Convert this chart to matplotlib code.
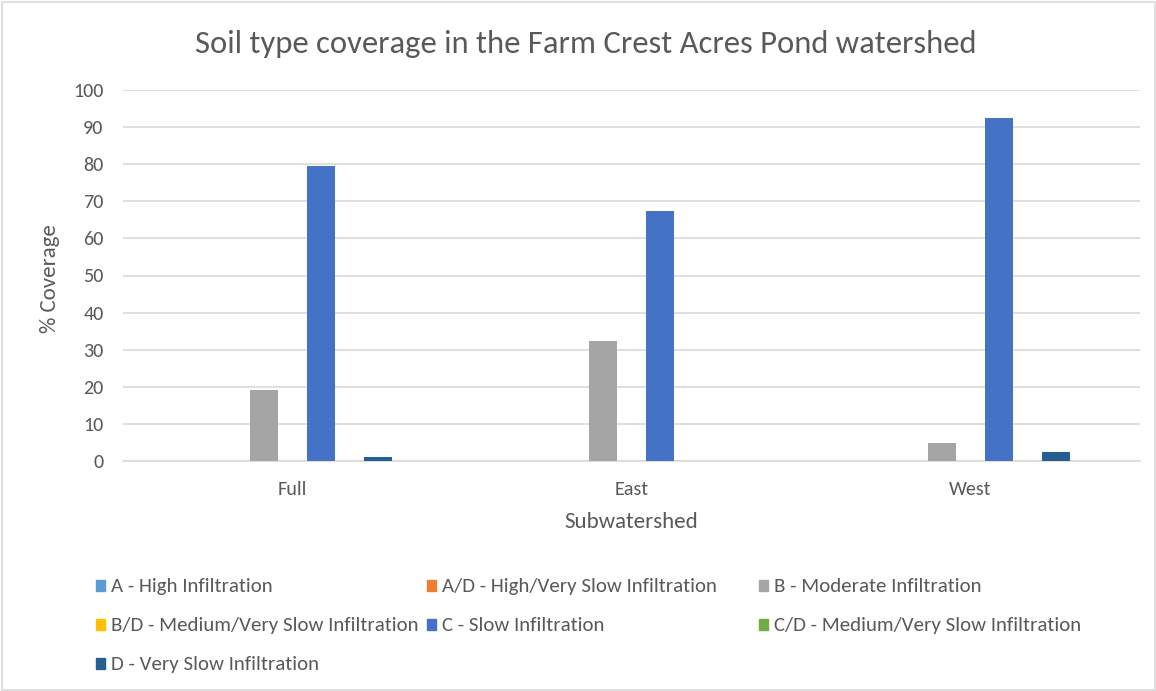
import matplotlib
matplotlib.use("Agg")
import matplotlib.pyplot as plt
from matplotlib.patches import Rectangle
import numpy as np
import warnings
warnings.filterwarnings("ignore")

plt.rcParams['font.family'] = ['Carlito', 'Liberation Sans Narrow', 'Open Sans', 'DejaVu Sans']

categories = ["Full", "East", "West"]
series_names = ["A - High Infiltration", "A/D - High/Very Slow Infiltration",
                "B - Moderate Infiltration", "B/D - Medium/Very Slow Infiltration",
                "C - Slow Infiltration", "C/D - Medium/Very Slow Infiltration",
                "D - Very Slow Infiltration"]
A = [0, 0, 0]
AD = [0, 0, 0]
B = [19.2, 32.4, 4.9]
BD = [0, 0, 0]
C = [79.4, 67.4, 92.4]
CD = [0, 0, 0]
D = [1.0, 0, 2.3]
series_values = [A, AD, B, BD, C, CD, D]
colors = ["#5B9BD5", "#ED7D31", "#A5A5A5", "#FFC000", "#4472C4", "#70AD47", "#255E91"]
yticks = [0, 10, 20, 30, 40, 50, 60, 70, 80, 90, 100]

W, H = 1156, 691
fig = plt.figure(figsize=(W / 100, H / 100), dpi=100)
ax = fig.add_axes([123 / W, 1 - 461 / H, (1140 - 123) / W, (461 - 90) / H])

x = np.arange(len(categories))
bw = 28.5 / 339
n = len(series_values)
for i, (vals, col) in enumerate(zip(series_values, colors)):
    ax.bar(x + (i - (n - 1) / 2) * bw, vals, width=bw, color=col, zorder=3,
           label=series_names[i])

ax.set_xlim(-0.5, len(categories) - 0.5)
ax.set_ylim(0, 100)
ax.set_yticks(yticks)
ax.set_xticks(x)
ax.set_xticklabels(categories)
ax.grid(axis='y', color='#D9D9D9', linewidth=1.2, zorder=0)
for s in ['top', 'right', 'left']:
    ax.spines[s].set_visible(False)
ax.spines['bottom'].set_color('#D9D9D9')
ax.spines['bottom'].set_linewidth(1.2)
ax.tick_params(axis='both', length=0, colors='#595959', labelsize=14.5)
ax.tick_params(axis='y', pad=14)
ax.tick_params(axis='x', pad=14.5)

fig.text(50 / W, 1 - 279 / H, "% Coverage", rotation=90, ha='center', va='center',
         fontsize=16.5, color='#595959')
fig.text(631 / W, 1 - 522 / H, "Subwatershed", ha='center', va='center',
         fontsize=16.5, color='#595959')

fig.text(586 / W, 1 - 44 / H, "Soil type coverage in the Farm Crest Acres Pond watershed",
         ha='center', va='center', fontsize=23.5, color='#595959')

# legend
legend_x = [96, 427, 759]
legend_y = [585, 624, 663]
for i, (name, col) in enumerate(zip(series_names, colors)):
    r, c = divmod(i, 3)
    lx, ly = legend_x[c], legend_y[r]
    fig.patches.append(Rectangle((lx / W, 1 - (ly + 6) / H), 9 / W, 11 / H,
                                 transform=fig.transFigure, color=col, figure=fig))
    fig.text((lx + 15) / W, 1 - (ly + 1.5) / H, name, ha='left', va='center',
             fontsize=15, color='#595959')

# chart border
fig.patches.append(Rectangle((1.5 / W, 1.5 / H), (W - 3) / W, (H - 3) / H,
                             transform=fig.transFigure, fill=False,
                             edgecolor='#D9D9D9', linewidth=1.2, figure=fig))

fig.savefig("out.png", dpi=100)
